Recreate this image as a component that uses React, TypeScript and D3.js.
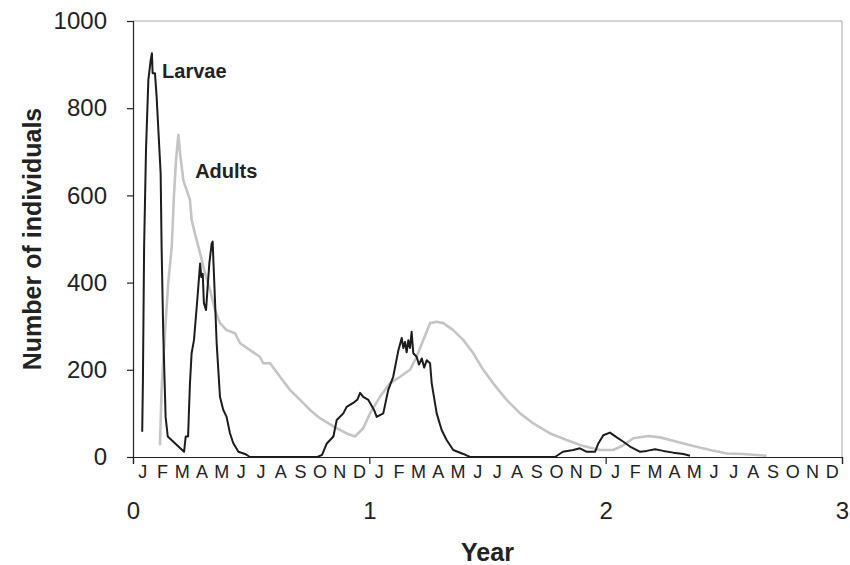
import React, { useEffect, useRef } from "react";
import * as d3 from "d3";

// time in years since start, value = number of individuals
const larvaeT = [0.039, 0.042, 0.047, 0.055, 0.065, 0.075, 0.080, 0.083, 0.093, 0.100, 0.117, 0.121, 0.128, 0.138, 0.147,
  0.216, 0.223, 0.233, 0.241, 0.248, 0.258, 0.272, 0.284, 0.289, 0.295, 0.300, 0.309, 0.314, 0.323, 0.333, 0.337, 0.344,
  0.354, 0.368, 0.382, 0.396, 0.410, 0.424, 0.446, 0.474, 0.495, 0.780, 0.800, 0.820, 0.848, 0.862, 0.890, 0.904, 0.932,
  0.950, 0.961, 0.974, 0.996, 1.020, 1.031, 1.059, 1.080, 1.101, 1.123, 1.137, 1.144, 1.151, 1.158, 1.165, 1.172, 1.179,
  1.186, 1.200, 1.210, 1.222, 1.232, 1.243, 1.257, 1.264, 1.285, 1.306, 1.327, 1.355, 1.398, 1.426, 1.786, 1.819, 1.863,
  1.891, 1.920, 1.955, 1.969, 1.990, 2.018, 2.047, 2.075, 2.103, 2.146, 2.174, 2.209, 2.244, 2.286, 2.329, 2.357];
const larvaeN = [58, 177, 482, 704, 865, 911, 926, 880, 880, 826, 650, 482, 284, 92, 47,
  12, 47, 47, 169, 238, 268, 360, 444, 413, 420, 353, 337, 376, 444, 490, 494, 399,
  261, 138, 108, 92, 55, 32, 12, 7, 0, 0, 5, 31, 47, 85, 100, 115, 124,
  132, 147, 138, 131, 108, 92, 100, 154, 184, 245, 273, 250, 264, 240, 268, 250, 287,
  238, 230, 212, 226, 205, 222, 215, 169, 100, 62, 39, 16, 7, 0, 0, 12, 16,
  20, 12, 12, 31, 50, 56, 45, 35, 24, 12, 14, 18, 14, 10, 7, 3];

const adultsT = [0.114, 0.121, 0.135, 0.149, 0.164, 0.173, 0.182, 0.192, 0.199, 0.213, 0.227, 0.241, 0.248, 0.262, 0.284,
  0.305, 0.326, 0.347, 0.368, 0.396, 0.432, 0.453, 0.495, 0.537, 0.551, 0.580, 0.622, 0.664, 0.707, 0.749, 0.791, 0.848,
  0.904, 0.939, 0.974, 1.003, 1.045, 1.087, 1.130, 1.172, 1.200, 1.228, 1.257, 1.285, 1.313, 1.355, 1.398, 1.440, 1.482,
  1.524, 1.581, 1.638, 1.694, 1.765, 1.835, 1.905, 1.976, 2.032, 2.075, 2.117, 2.180, 2.230, 2.301, 2.371, 2.442, 2.512,
  2.583, 2.681];
const adultsN = [27, 154, 284, 399, 482, 597, 681, 739, 697, 635, 612, 590, 544, 513, 467,
  421, 383, 337, 307, 291, 284, 261, 245, 230, 215, 215, 184, 154, 131, 108, 89, 70,
  54, 47, 66, 100, 138, 169, 184, 200, 230, 268, 307, 310, 307, 291, 268, 238, 200,
  169, 131, 100, 77, 54, 39, 25, 16, 16, 27, 43, 48, 45, 35, 25, 16, 8,
  7, 3];

const months = ["J", "F", "M", "A", "M", "J", "J", "A", "S", "O", "N", "D"];
const yearTicks = [0, 1, 2, 3];
const yTicks = [0, 200, 400, 600, 800, 1000];

const FONT = "'Liberation Sans', Arial, sans-serif";

const App = () => {
  const svgRef = useRef<SVGSVGElement>(null);
  const width = 850, height = 565;
  const margin = { top: 21, right: 8, bottom: 108, left: 133 };

  useEffect(() => {
    const root = d3.select(svgRef.current);
    root.selectAll("*").remove();
    const w = width - margin.left - margin.right;
    const h = height - margin.top - margin.bottom;

    const svg = root.append("g")
      .attr("transform", `translate(${margin.left}, ${margin.top})`);

    const x = d3.scaleLinear().domain([0, 3]).range([0, w]);
    const y = d3.scaleLinear().domain([0, 1000]).range([h, 0]);

    // frame top / right in grey
    svg.append("line").attr("x1", 0).attr("x2", w).attr("y1", 0).attr("y2", 0)
      .attr("stroke", "#a8a8a8").attr("stroke-width", 1);
    svg.append("line").attr("x1", w).attr("x2", w).attr("y1", 0).attr("y2", h)
      .attr("stroke", "#a8a8a8").attr("stroke-width", 1);

    const yAxis = svg.append("g")
      .call(d3.axisLeft(y).tickValues(yTicks).tickSize(6).tickPadding(20).tickFormat(d3.format("d")));
    yAxis.selectAll("text").attr("font-size", 24).attr("font-family", FONT).attr("fill", "#222");
    yAxis.selectAll("line, path").attr("stroke", "#222").attr("stroke-width", 1.2);

    const xAxis = svg.append("g")
      .attr("transform", `translate(0, ${h})`)
      .call(d3.axisBottom(x).tickValues(yearTicks).tickSize(7).tickPadding(38).tickFormat(d3.format("d")));
    xAxis.selectAll("text").attr("font-size", 24).attr("font-family", FONT).attr("fill", "#222");
    xAxis.selectAll("line, path").attr("stroke", "#222").attr("stroke-width", 1.2);

    // month letters
    const monthData = d3.range(36).map(i => ({ t: (i + 0.5) / 12, m: months[i % 12] }));
    svg.append("g").selectAll("text")
      .data(monthData)
      .enter()
      .append("text")
      .attr("x", d => x(d.t))
      .attr("y", h + 21)
      .attr("text-anchor", "middle")
      .attr("font-size", 18)
      .attr("font-family", FONT)
      .attr("fill", "#222")
      .text(d => d.m);

    const line = d3.line<[number, number]>().x(d => x(d[0])).y(d => y(d[1]));

    const adults = adultsT.map((t, i) => [t, adultsN[i]] as [number, number]);
    const larvae = larvaeT.map((t, i) => [t, larvaeN[i]] as [number, number]);

    svg.append("path").datum(adults)
      .attr("d", line)
      .attr("fill", "none")
      .attr("stroke", "#c4c4c4")
      .attr("stroke-width", 2.6)
      .attr("stroke-linejoin", "round");

    svg.append("path").datum(larvae)
      .attr("d", line)
      .attr("fill", "none")
      .attr("stroke", "#1c1c1c")
      .attr("stroke-width", 2)
      .attr("stroke-linejoin", "round");

    // series labels
    svg.append("text").attr("x", x(0.123)).attr("y", y(870))
      .attr("font-size", 20).attr("font-weight", "bold").attr("font-family", FONT).attr("fill", "#222")
      .text("Larvae");
    svg.append("text").attr("x", x(0.263)).attr("y", y(640))
      .attr("font-size", 20).attr("font-weight", "bold").attr("font-family", FONT).attr("fill", "#222")
      .text("Adults");

    // axis titles
    svg.append("text")
      .attr("x", w / 2).attr("y", h + 104)
      .attr("text-anchor", "middle")
      .attr("font-size", 25).attr("font-weight", "bold").attr("font-family", FONT).attr("fill", "#222")
      .text("Year");
    svg.append("text")
      .attr("transform", `translate(${-92}, ${h / 2}) rotate(-90)`)
      .attr("text-anchor", "middle")
      .attr("font-size", 25).attr("font-weight", "bold").attr("font-family", FONT).attr("fill", "#222")
      .text("Number of individuals");
  }, []);

  return (
    <div>
      <svg ref={svgRef} width={width} height={height}
        style={{ position: "absolute", left: 0, top: 0, background: "#fff" }}></svg>
    </div>
  );
};

export default App;
